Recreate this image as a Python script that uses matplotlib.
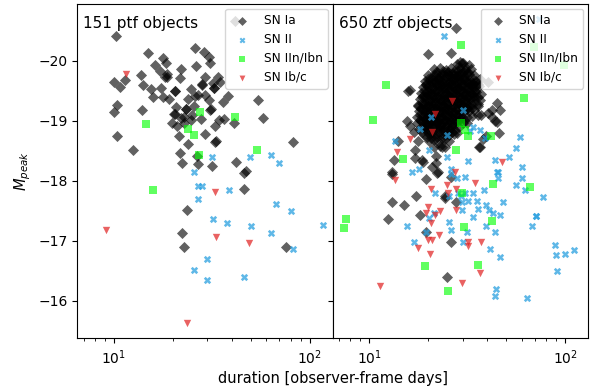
import matplotlib
matplotlib.use("Agg")
import matplotlib.pyplot as plt

# ---- PTF sample (left panel) ----
ptf_ia_dur = [10.2, 14.9, 17.9, 25.9, 28.7, 30.7, 30.9, 26.2, 16.2, 18.5,
              17.1, 18.7, 22.0, 18.2, 21.8, 13.7, 10.0, 10.8, 11.4, 14.0,
              15.5, 17.4, 20.5, 24.9, 28.1, 29.3, 31.9, 33.9, 35.0, 32.6,
              15.8, 17.9, 19.2, 23.8, 26.8, 29.3, 30.7, 38.1, 36.2, 54.2,
              10.4, 10.0, 13.9, 20.7, 23.3, 25.8, 31.3, 20.4, 22.7, 25.2,
              27.9, 19.8, 21.1, 22.7, 24.7, 32.8, 34.6, 36.7, 40.9, 10.4,
              21.6, 24.0, 29.3, 33.0, 12.5, 21.7, 26.5, 22.2, 26.8, 31.6,
              58.0, 82.6, 42.0, 46.1, 47.5, 46.1, 23.7, 22.2, 22.8, 75.4,
              41.7, 20.6, 28.3, 32.4, 23.4, 31.1, 33.2, 20.3, 18.6, 22.0, 26.0]
ptf_ia_mag = [-20.41, -20.13, -20.05, -20.21, -20.15, -20.07, -19.96, -19.92, -19.94, -19.96,
              -19.84, -19.79, -19.87, -19.73, -19.71, -19.77, -19.65, -19.57, -19.68, -19.60,
              -19.53, -19.54, -19.50, -19.53, -19.61, -19.73, -19.63, -19.74, -19.64, -19.54,
              -19.39, -19.39, -19.36, -19.37, -19.43, -19.43, -19.35, -19.42, -19.32, -19.35,
              -19.27, -19.14, -19.18, -19.23, -19.19, -19.24, -19.19, -19.12, -19.07, -19.10,
              -19.03, -18.97, -18.91, -18.96, -19.02, -18.91, -19.02, -19.03, -18.96, -18.75,
              -18.75, -18.61, -18.78, -18.65, -18.51, -18.47, -18.41, -18.29, -18.28, -18.24,
              -19.04, -18.64, -18.31, -18.13, -18.17, -17.87, -17.51, -17.13, -16.90, -16.90,
              -20.66, -19.49, -19.60, -19.55, -19.20, -19.18, -18.66, -19.11, -19.73, -19.05, -19.42]

ptf_ii_dur = [31.6, 49.5, 63.7, 69.5, 25.6, 27.0, 28.3, 38.9, 26.9, 67.0, 80.0,
              32.2, 37.7, 50.0, 63.4, 117.5, 82.6, 29.8, 25.5, 29.8, 46.4]
ptf_ii_mag = [-18.40, -18.40, -18.43, -18.30, -18.14, -17.91, -17.91, -17.85, -17.70, -17.61, -17.50,
              -17.36, -17.29, -17.25, -17.12, -17.26, -16.86, -16.70, -16.51, -16.34, -16.39]

ptf_iin_dur = [27.4, 14.6, 23.8, 25.5, 41.7, 27.2, 53.5, 15.9]
ptf_iin_mag = [-19.15, -18.95, -18.86, -18.76, -19.07, -18.43, -18.51, -17.85]

ptf_ibc_dur = [11.5, 32.8, 9.1, 33.1, 49.2, 23.6]
ptf_ibc_mag = [-19.79, -17.82, -17.18, -17.06, -16.96, -15.63]

# ---- ZTF sample (right panel) ----
ztf_ia_dur = [
    # scattered around the main clump
    27.6, 20.0, 26.3, 15.8, 17.8, 15.6, 16.1, 16.9, 19.4, 19.8, 17.8, 14.1, 17.1, 13.4, 18.7,
    21.8, 13.0, 21.0, 23.6, 29.6, 30.8, 34.0, 44.7, 42.5, 46.5, 37.2, 42.2, 44.7, 46.0, 39.7,
    38.2, 36.3, 34.7, 36.0, 13.0, 19.4, 22.2, 26.0, 17.4, 13.0, 15.0, 24.4, 27.6, 18.1, 12.5,
    19.4, 26.2, 25.0, 29.1, 40.6, 43.9, 40.6, 36.0, 36.8, 18.9, 17.1, 22.5, 16.1, 21.9, 24.5,
    # main clump
    28.0, 30.1, 32.2,
    21.5, 23.1, 24.6, 26.0, 27.6, 29.2, 31.0, 33.1,
    20.0, 21.3, 22.7, 24.0, 25.5, 27.0, 28.7, 30.5, 32.3, 34.4,
    19.2, 20.4, 21.7, 23.0, 24.4, 25.9, 27.5, 29.2, 31.0, 33.0, 35.0, 36.6,
    18.8, 20.0, 21.2, 22.5, 23.9, 25.3, 26.9, 28.5, 30.2, 32.1, 34.0, 36.4,
    18.3, 19.5, 20.7, 22.0, 23.3, 24.7, 26.2, 27.8, 29.5, 31.3, 33.2, 35.2, 37.2,
    18.1, 19.2, 20.4, 21.6, 22.9, 24.3, 25.8, 27.4, 29.0, 30.8, 32.7, 34.7, 36.6,
    17.8, 18.9, 20.0, 21.2, 22.5, 23.9, 25.3, 26.9, 28.5, 30.2, 32.1, 34.0, 35.8,
    17.9, 19.0, 20.2, 21.4, 22.7, 24.1, 25.6, 27.1, 28.8, 30.5, 32.4, 34.3,
    17.5, 18.6, 19.7, 20.9, 22.2, 23.6, 25.0, 26.5, 28.1, 29.8, 31.6, 33.5,
    17.6, 18.7, 19.8, 21.0, 22.3, 23.7, 25.1, 26.6, 28.3, 30.0, 31.5,
    18.0, 19.1, 20.3, 21.5, 22.8, 24.2, 25.7, 27.3, 28.9,
    19.0, 20.2, 21.4, 22.7, 24.1, 25.6, 27.0,
    20.1, 21.4, 22.8, 24.3, 25.5,
    21.4, 23.0, 24.3,
    21.0, 22.8, 24.6, 26.5, 28.4, 30.5,
    20.3, 22.0, 23.8, 25.6, 27.6, 29.7, 32.0,
    19.8, 21.5, 23.2, 25.0, 27.0, 29.1, 31.3,
    19.4, 21.0, 22.7, 24.5, 26.4, 28.4,
    19.6, 21.2, 23.0, 24.8, 26.8,
    22.2, 23.8, 25.3, 26.8, 28.4, 30.0, 31.9,
    19.6, 20.9, 22.2, 23.6, 25.1, 26.6, 28.2, 29.9, 31.8, 33.8, 35.8,
    18.8, 20.0, 21.3, 22.6, 24.0, 25.4, 27.0, 28.6, 30.3, 32.2, 34.2, 36.1,
    18.4, 19.6, 20.8, 22.1, 23.4, 24.8, 26.3, 27.9, 29.6, 31.4, 33.3,
    18.1, 19.3, 20.5, 21.7, 23.0, 24.4, 25.9, 27.4, 29.1, 30.8,
    18.6, 19.8, 21.0, 22.3, 23.7, 25.1, 26.6, 28.1,
    20.7, 22.1, 23.6,
    # dense core
    22.0, 23.4, 24.9, 26.4, 28.0, 29.6, 31.4,
    20.0, 21.2, 22.5, 23.9, 25.3, 26.9, 28.5, 30.2, 32.1, 34.0,
    19.5, 20.7, 22.0, 23.3, 24.7, 26.2, 27.8, 29.5, 31.3, 33.2, 35.2,
    19.0, 20.2, 21.4, 22.7, 24.1, 25.6, 27.1, 28.8, 30.5, 32.4, 34.3,
    18.7, 19.8, 21.0, 22.3, 23.7, 25.1, 26.6, 28.2, 29.9, 31.7, 33.7,
    18.5, 19.6, 20.7, 22.0, 23.3, 24.7, 26.2, 27.8, 29.5, 31.3, 33.2,
    18.4, 19.5, 20.7, 22.0, 23.3, 24.8, 26.3, 27.9, 29.6, 31.4,
    18.2, 19.3, 20.4, 21.7, 23.0, 24.4, 25.9, 27.4, 29.0,
    18.3, 19.4, 20.6, 21.8, 23.1, 24.5, 26.0, 27.6,
    19.4, 20.6, 21.9, 23.2, 24.6, 26.1,
]
ztf_ia_mag = [
    -20.55, -20.11, -20.13, -19.49, -19.25, -19.00, -18.92, -18.81, -18.95, -18.73, -18.67, -18.67, -18.51, -18.34, -18.34,
    -18.42, -18.14, -18.23, -18.56, -19.96, -19.90, -19.63, -19.29, -19.18, -19.18, -19.09, -19.07, -18.98, -18.79, -18.75,
    -18.70, -18.57, -19.50, -19.28, -18.11, -18.03, -18.13, -18.07, -17.75, -17.64, -17.60, -17.72, -17.64, -17.42, -17.36,
    -17.15, -16.98, -16.39, -19.99, -19.65, -18.99, -19.13, -19.10, -18.57, -18.32, -18.38, -18.15, -19.52, -18.29, -17.75,
    -19.95, -19.97, -19.93,
    -19.86, -19.88, -19.85, -19.89, -19.86, -19.88, -19.85, -19.87,
    -19.76, -19.78, -19.75, -19.79, -19.77, -19.76, -19.79, -19.75, -19.78, -19.76,
    -19.66, -19.69, -19.65, -19.68, -19.67, -19.65, -19.69, -19.66, -19.68, -19.65, -19.67, -19.69,
    -19.56, -19.58, -19.55, -19.59, -19.57, -19.56, -19.58, -19.55, -19.59, -19.57, -19.56, -19.58,
    -19.46, -19.48, -19.45, -19.49, -19.47, -19.46, -19.48, -19.45, -19.49, -19.47, -19.46, -19.48, -19.45,
    -19.36, -19.39, -19.35, -19.38, -19.37, -19.36, -19.39, -19.35, -19.38, -19.37, -19.36, -19.38, -19.35,
    -19.26, -19.28, -19.25, -19.29, -19.27, -19.26, -19.28, -19.25, -19.29, -19.27, -19.26, -19.28, -19.25,
    -19.16, -19.18, -19.15, -19.19, -19.17, -19.16, -19.18, -19.15, -19.19, -19.17, -19.16, -19.18,
    -19.06, -19.08, -19.05, -19.09, -19.07, -19.06, -19.08, -19.05, -19.09, -19.07, -19.06, -19.08,
    -18.96, -18.98, -18.95, -18.99, -18.97, -18.96, -18.98, -18.95, -18.99, -18.97, -18.96,
    -18.86, -18.88, -18.85, -18.89, -18.87, -18.86, -18.88, -18.85, -18.89,
    -18.76, -18.78, -18.75, -18.79, -18.77, -18.76, -18.78,
    -18.66, -18.68, -18.65, -18.69, -18.67,
    -18.56, -18.58, -18.57,
    -19.72, -19.70, -19.73, -19.71, -19.72, -19.70,
    -19.52, -19.50, -19.53, -19.51, -19.52, -19.50, -19.53,
    -19.32, -19.30, -19.33, -19.31, -19.32, -19.30, -19.33,
    -19.12, -19.10, -19.13, -19.11, -19.12, -19.10,
    -18.92, -18.90, -18.93, -18.91, -18.92,
    -19.81, -19.83, -19.82, -19.80, -19.83, -19.81, -19.82,
    -19.61, -19.63, -19.62, -19.60, -19.63, -19.61, -19.62, -19.60, -19.63, -19.61, -19.62,
    -19.41, -19.43, -19.42, -19.40, -19.43, -19.41, -19.42, -19.40, -19.43, -19.41, -19.42, -19.40,
    -19.21, -19.23, -19.22, -19.20, -19.23, -19.21, -19.22, -19.20, -19.23, -19.21, -19.22,
    -19.01, -19.03, -19.02, -19.00, -19.03, -19.01, -19.02, -19.00, -19.03, -19.01,
    -18.81, -18.83, -18.82, -18.80, -18.83, -18.81, -18.82, -18.80,
    -18.71, -18.73, -18.72,
    -19.79, -19.78, -19.80, -19.79, -19.77, -19.80, -19.78,
    -19.69, -19.68, -19.70, -19.69, -19.67, -19.70, -19.68, -19.69, -19.67, -19.70,
    -19.59, -19.58, -19.60, -19.59, -19.57, -19.60, -19.58, -19.59, -19.57, -19.60, -19.58,
    -19.49, -19.48, -19.50, -19.49, -19.47, -19.50, -19.48, -19.49, -19.47, -19.50, -19.48,
    -19.39, -19.38, -19.40, -19.39, -19.37, -19.40, -19.38, -19.39, -19.37, -19.40, -19.38,
    -19.29, -19.28, -19.30, -19.29, -19.27, -19.30, -19.28, -19.29, -19.27, -19.30, -19.28,
    -19.19, -19.18, -19.20, -19.19, -19.17, -19.20, -19.18, -19.19, -19.17, -19.20,
    -19.09, -19.08, -19.10, -19.09, -19.07, -19.10, -19.08, -19.09, -19.07,
    -18.99, -18.98, -19.00, -18.99, -18.97, -19.00, -18.98, -18.99,
    -18.89, -18.88, -18.90, -18.89, -18.87, -18.90,
]

ztf_ii_dur = [24.1, 20.7, 18.1, 13.5, 20.2, 25.0, 25.0, 16.6, 18.0, 26.0, 32.0, 36.8, 32.7, 58.9,
              55.9, 51.7, 43.9, 60.0, 45.2, 73.6, 21.7, 25.5, 20.2, 21.4, 25.5, 26.2, 15.5, 16.9,
              19.6, 29.3, 44.7, 45.6, 30.8, 55.9, 60.0, 62.4, 38.7, 34.0, 35.3, 32.0, 29.9, 48.4,
              77.5, 39.7, 36.0, 40.9, 43.0, 46.5, 29.6, 34.0, 71.1, 71.1, 39.3, 67.5, 31.4, 43.9,
              30.2, 41.4, 46.5, 88.9, 89.5, 100.0, 110.6, 91.5, 44.2, 43.9, 64.2, 30.2, 39.0,
              34.0, 26.3, 27.9, 30.8, 28.5]
ztf_ii_mag = [-20.42, -19.06, -18.86, -18.67, -18.52, -18.77, -18.40, -18.14, -18.20, -18.20, -18.33, -18.85, -18.83, -18.73,
              -18.55, -18.39, -18.35, -18.23, -18.14, -20.70, -17.79, -17.75, -17.37, -17.46, -17.31, -17.18, -17.25, -16.97,
              -17.15, -17.74, -18.14, -18.04, -18.06, -17.93, -18.04, -17.85, -17.85, -17.79, -17.67, -17.67, -17.65, -17.64,
              -17.73, -17.60, -17.52, -17.51, -17.46, -17.43, -17.51, -17.40, -17.41, -17.41, -17.25, -17.25, -17.15, -17.14,
              -16.98, -16.86, -16.73, -16.92, -16.76, -16.78, -16.84, -16.49, -16.19, -16.07, -16.05, -19.18, -18.71,
              -18.90, -18.11, -18.04, -17.79, -17.79]

ztf_iin_dur = [12.2, 10.4, 14.9, 27.8, 29.3, 29.3, 61.9, 41.9, 32.0, 30.8, 69.7, 99.1,
               7.62, 7.45, 19.3, 25.3, 29.6, 43.0, 66.2, 42.5, 30.6, 36.0]
ztf_iin_mag = [-19.60, -19.02, -18.36, -18.52, -20.26, -18.96, -19.38, -18.74, -18.75, -18.85, -20.24, -19.94,
               -17.36, -17.21, -16.57, -16.16, -17.80, -17.95, -17.89, -17.33, -17.23, -16.60]

ztf_ibc_dur = [26.6, 21.7, 21.0, 16.1, 13.9, 47.4, 27.4, 13.6, 20.7, 25.0, 27.8, 19.9, 23.1, 21.7,
               20.6, 19.9, 21.0, 22.7, 17.8, 20.4, 11.3, 27.8, 29.6, 34.7, 31.8, 31.8, 37.2, 36.8,
               25.1, 19.6]
ztf_ibc_mag = [-19.33, -19.12, -18.81, -18.70, -18.48, -18.31, -18.15, -18.01, -17.86, -17.93, -17.87, -17.56, -17.50, -17.43,
               -17.29, -17.01, -17.01, -17.10, -16.87, -16.78, -16.24, -17.51, -16.29, -17.96, -16.98, -16.91, -16.97, -16.46,
               -17.79, -17.46]

panels = [
    ("151 ptf objects", ptf_ia_dur, ptf_ia_mag, ptf_ii_dur, ptf_ii_mag,
     ptf_iin_dur, ptf_iin_mag, ptf_ibc_dur, ptf_ibc_mag),
    ("650 ztf objects", ztf_ia_dur, ztf_ia_mag, ztf_ii_dur, ztf_ii_mag,
     ztf_iin_dur, ztf_iin_mag, ztf_ibc_dur, ztf_ibc_mag),
]

fig = plt.figure(figsize=(5.9, 3.9), dpi=100)
axes = fig.subplots(1, 2, sharey=True)
fig.subplots_adjust(left=0.131, right=0.9966, bottom=0.1326, top=0.9897, wspace=0)

for ax, (title, ia_d, ia_m, ii_d, ii_m, iin_d, iin_m, ibc_d, ibc_m) in zip(axes, panels):
    ax.scatter(ia_d, ia_m, marker="D", s=32, color="black", alpha=0.62, linewidths=0, label="SN Ia")
    ax.scatter(ii_d, ii_m, marker="X", s=28, color="#2aa0e0", alpha=0.75, linewidths=0, label="SN II")
    ax.scatter(iin_d, iin_m, marker="s", s=28, color="#00ff00", alpha=0.62, linewidths=0, label="SN IIn/Ibn")
    ax.scatter(ibc_d, ibc_m, marker="v", s=28, color="#e02020", alpha=0.7, linewidths=0, label="SN Ib/c")
    ax.set_xscale("log")
    ax.set_xlim(6.5, 131)
    ax.text(0.023, 0.965, title, transform=ax.transAxes, va="top", ha="left", fontsize=11)
    ax.legend(loc="upper right", fontsize=8.7, borderaxespad=0.4, markerscale=0.8)
    ax.tick_params(labelsize=10)

axes[0].set_ylim(-15.37, -20.95)
axes[0].set_ylabel("$M_{peak}$", fontsize=10.5)
fig.text(0.5636, 0.03, "duration [observer-frame days]", ha="center", va="center", fontsize=10.5)

fig.savefig("out.png", dpi=100)
